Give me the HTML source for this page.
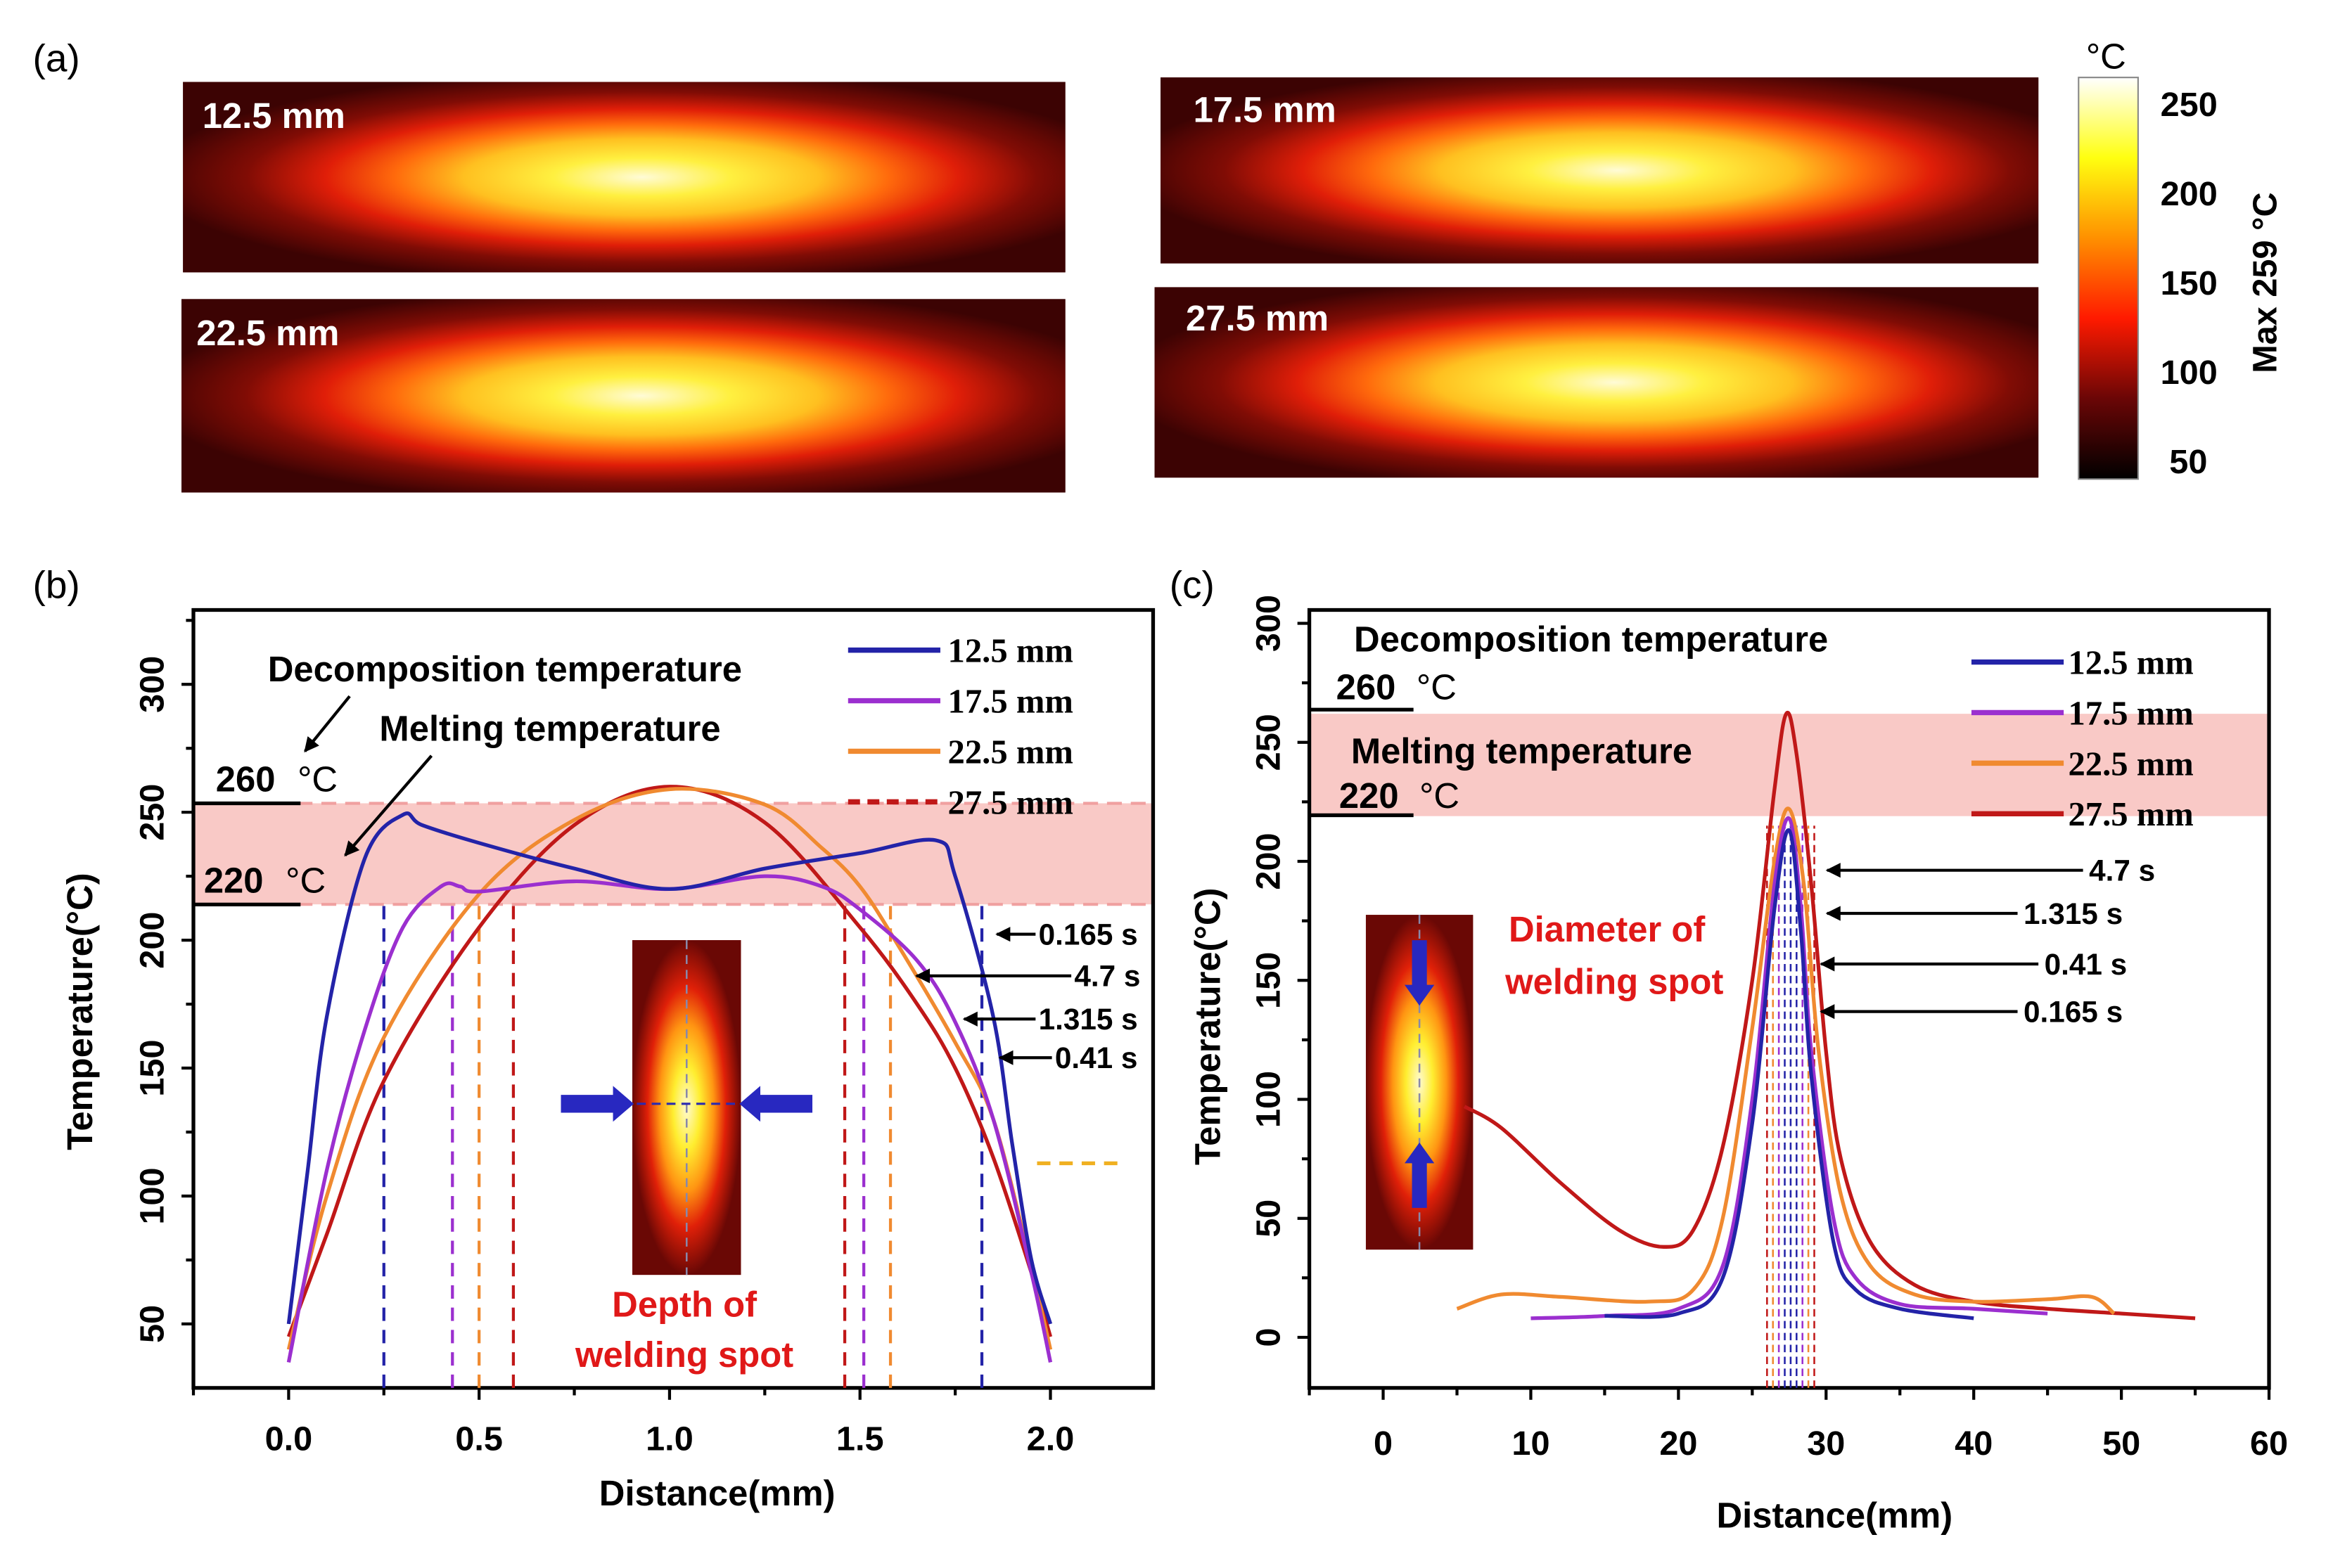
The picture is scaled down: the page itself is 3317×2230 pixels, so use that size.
<!DOCTYPE html>
<html><head><meta charset="utf-8">
<style>
html,body{margin:0;padding:0;background:#fff;}
svg{display:block;}
text{font-family:"Liberation Sans",sans-serif;}
.tk{font-size:23px;font-weight:bold;}
.an{font-size:24px;font-weight:bold;}
.lg{font-family:"Liberation Serif",serif;font-size:23px;font-weight:bold;}
.hm{font-size:24px;font-weight:bold;fill:#fff;}
</style></head>
<body>
<svg id="fig" width="3317" height="2230" viewBox="0 0 1568 1054" xmlns="http://www.w3.org/2000/svg">
<defs>
<radialGradient id="heatA" cx="0.52" cy="0.5" r="0.56" fx="0.52" fy="0.5">
<stop offset="0" stop-color="#fffbd6"/><stop offset="0.18" stop-color="#fff040"/>
<stop offset="0.36" stop-color="#ffc020"/><stop offset="0.5" stop-color="#ff6a0c"/>
<stop offset="0.64" stop-color="#e01e08"/><stop offset="0.8" stop-color="#800c05"/>
<stop offset="1" stop-color="#3c0303"/>
</radialGradient>
<radialGradient id="heatB" cx="0.5" cy="0.5" r="0.5">
<stop offset="0" stop-color="#fffad0"/><stop offset="0.25" stop-color="#ffee30"/>
<stop offset="0.5" stop-color="#ff9512"/><stop offset="0.72" stop-color="#e02008"/>
<stop offset="1" stop-color="#6a0805"/>
</radialGradient>
<linearGradient id="cbar" x1="0" y1="1" x2="0" y2="0">
<stop offset="0" stop-color="#000"/><stop offset="0.2" stop-color="#6a0606"/>
<stop offset="0.4" stop-color="#ff1a00"/><stop offset="0.6" stop-color="#ff9000"/>
<stop offset="0.8" stop-color="#ffff10"/><stop offset="1" stop-color="#ffffff"/>
</linearGradient>
<marker id="arr" viewBox="0 0 10 10" refX="9" refY="5" markerWidth="5" markerHeight="5" orient="auto"><path d="M0,0 L10,5 L0,10 z" fill="#000"/></marker>
</defs>

<text x="22" y="48" class="tk" style="font-weight:normal;font-size:26px">(a)</text>
<text x="22" y="402" style="font-size:26px">(b)</text>
<text x="786" y="402" style="font-size:26px">(c)</text>
<g>
<rect x="123" y="55" width="593" height="128" fill="#3c0303"/>
<rect x="123" y="55" width="593" height="128" fill="url(#heatA)"/>
<text x="136" y="86" class="hm">12.5 mm</text></g>
<g>
<rect x="122" y="201" width="594" height="130" fill="#3c0303"/>
<rect x="122" y="201" width="594" height="130" fill="url(#heatA)"/>
<text x="132" y="232" class="hm">22.5 mm</text></g>
<g>
<rect x="780" y="52" width="590" height="125" fill="#3c0303"/>
<rect x="780" y="52" width="590" height="125" fill="url(#heatA)"/>
<text x="802" y="82" class="hm">17.5 mm</text></g>
<g>
<rect x="776" y="193" width="594" height="128" fill="#4a0404"/>
<rect x="776" y="193" width="594" height="128" fill="url(#heatA)"/>
<text x="797" y="222" class="hm">27.5 mm</text></g>
<g>
<rect x="1397" y="52" width="40" height="270" fill="url(#cbar)" stroke="#888" stroke-width="1"/>
<text x="1402" y="46" style="font-size:24px">°C</text>
<text x="1452" y="78" class="tk">250</text><text x="1452" y="138" class="tk">200</text>
<text x="1452" y="198" class="tk">150</text><text x="1452" y="258" class="tk">100</text>
<text x="1458" y="318" class="tk">50</text>
<text transform="translate(1530,190) rotate(-90)" text-anchor="middle" class="tk">Max 259 °C</text>
</g>

<g id="pb"></g>
<g id="pc"></g>
</svg>
<script>
// ---------- Panel (b) data ----------
const bSeriesNames = ['12.5 mm','17.5 mm','22.5 mm','27.5 mm'];
const bColors = ['#2323a8','#9b2fcf','#f08a30','#c01818'];
const bX_125 = [0,0.05,0.1,0.2,0.3,0.35,0.5,0.75,1.0,1.25,1.5,1.7,1.75,1.85,1.9,1.95,2.0];
const bY_125 = [50,110,170,232,249,245,238,228,220,228,234,239,225,170,120,75,50];
const bX_175 = [0,0.1,0.2,0.3,0.4,0.45,0.5,0.75,1.0,1.25,1.4,1.5,1.65,1.75,1.85,1.95,2.0];
const bY_175 = [35,110,165,205,221,221,219,223,220,225,221,212,192,168,130,70,35];
const bX_225 = [0,0.1,0.25,0.5,0.75,1.0,1.25,1.4,1.5,1.6,1.75,1.85,1.95,2.0];
const bY_225 = [40,100,162,218,247,259,253,236,221,198,160,130,72,40];
const bX_275 = [0,0.1,0.25,0.5,0.75,1.0,1.25,1.5,1.65,1.75,1.85,1.95,2.0];
const bY_275 = [45,85,145,205,245,260,246,205,175,150,115,70,45];
const bDashX = [0.25,0.43,0.5,0.59,1.46,1.51,1.58,1.82];
const bDashC = [0,1,2,3,3,1,2,0];
const bXTicks = [0,0.5,1.0,1.5,2.0];
const bXTickLabels = ['0.0','0.5','1.0','1.5','2.0'];
const bYTicks = [50,100,150,200,250,300];
// ---------- Panel (c) data ----------
const cX_125 = [15,20,23,25,26.5,27.5,28.3,29,30.5,32,35,40];
const cY_125 = [9,10,25,90,180,213,170,110,40,20,12,8];
const cX_175 = [10,15,20,23,25,26.5,27.5,28.3,29,30.5,32,35,40,45];
const cY_175 = [8,9,12,30,100,190,218,180,120,50,25,14,12,10];
const cX_225 = [5,8,12,18,21,23,25,26.5,27.5,28.5,29.5,31,33,36,40,45,48,49.5];
const cY_225 = [12,18,17,15,20,50,130,200,222,190,120,60,30,18,15,16,17,10];
const cX_275 = [5.5,8,12,16,19,21,23,25,26.5,27.3,28,29,30,31,33,36,40,45,50,55];
const cY_275 = [97,88,65,45,38,45,80,150,230,262,245,190,120,75,40,22,15,12,10,8];
const cDashX = [26,26.4,26.8,27.2,27.6,28,28.4,28.8,29.2];
const cDashC = [3,2,1,0,0,0,1,2,3];
const cXTicks = [0,10,20,30,40,50,60];
const cYTicks = [0,50,100,150,200,250,300];
const timeLabels = ['0.165 s','4.7 s','1.315 s','0.41 s'];
const cTimeLabels = ['4.7 s','1.315 s','0.41 s','0.165 s'];

const NS='http://www.w3.org/2000/svg';
function mk(parent,tag,attrs,txt){const e=document.createElementNS(NS,tag);for(const k in attrs)e.setAttribute(k,attrs[k]);if(txt!==undefined)e.textContent=txt;parent.appendChild(e);return e;}
function smooth(pts){let d='M'+pts[0][0]+','+pts[0][1];for(let i=0;i<pts.length-1;i++){const p0=pts[Math.max(0,i-1)],p1=pts[i],p2=pts[i+1],p3=pts[Math.min(pts.length-1,i+2)];const c1=[p1[0]+(p2[0]-p0[0])/6,p1[1]+(p2[1]-p0[1])/6],c2=[p2[0]-(p3[0]-p1[0])/6,p2[1]-(p3[1]-p1[1])/6];d+=' C'+c1[0]+','+c1[1]+' '+c2[0]+','+c2[1]+' '+p2[0]+','+p2[1];}return d;}
function arrowLine(g,x1,y1,x2,y2,name){const l=mk(g,'line',{x1,y1,x2,y2,stroke:'#000','stroke-width':2,'marker-end':'url(#arr)'});}
function inset(g,x,y,w,h){
  const r=mk(g,'rect',{x,y,width:w,height:h,fill:'#7a0a05'});
  
  mk(g,'rect',{x,y,width:w,height:h,fill:'url(#heatB)'});
  mk(g,'line',{x1:x+w/2,y1:y,x2:x+w/2,y2:y+h,stroke:'#8888aa','stroke-width':1.2,'stroke-dasharray':'6,4'});
}

// ---------- Build panel (b) ----------
(function(){
 const g=document.getElementById('pb');
 const L=130,R=775,T=410,B=933;
 const xs=v=>194+(v-0)*256, ys=v=>890-(v-50)*1.72;
 mk(g,'rect',{x:L,y:ys(253.5),width:R-L,height:ys(214)-ys(253.5),fill:'#f9c9c6'});
 [253.5,214].forEach(v=>mk(g,'line',{x1:200,x2:R,y1:ys(v),y2:ys(v),stroke:'#f0a0a0','stroke-width':2,'stroke-dasharray':'10,6'}));
 mk(g,'rect',{x:L,y:T,width:R-L,height:B-T,fill:'none',stroke:'#000','stroke-width':2.5});
 bXTicks.forEach((v,i)=>{mk(g,'line',{x1:xs(v),x2:xs(v),y1:B,y2:B+8,stroke:'#000','stroke-width':2});
   const t=mk(g,'text',{x:xs(v),y:975,'text-anchor':'middle',class:'tk'},bXTickLabels[i]);
   if(i<bXTicks.length-1)mk(g,'line',{x1:xs(v+0.25),x2:xs(v+0.25),y1:B,y2:B+5,stroke:'#000','stroke-width':2});});
 mk(g,'line',{x1:xs(-0.25),x2:xs(-0.25),y1:B,y2:B+5,stroke:'#000','stroke-width':2});
 bYTicks.forEach(v=>{mk(g,'line',{x1:L,x2:L-8,y1:ys(v),y2:ys(v),stroke:'#000','stroke-width':2});
   mk(g,'line',{x1:L,x2:L-5,y1:ys(v+25),y2:ys(v+25),stroke:'#000','stroke-width':2});
   const t=mk(g,'text',{transform:`translate(${L-20},${ys(v)}) rotate(-90)`,'text-anchor':'middle',class:'tk'},String(v));});
 mk(g,'text',{x:482,y:1012,'text-anchor':'middle',class:'an'},'Distance(mm)');
 mk(g,'text',{transform:'translate(62,680) rotate(-90)','text-anchor':'middle',class:'an'},'Temperature(°C)');
 bDashX.forEach((v,i)=>{const l=mk(g,'line',{x1:xs(v),x2:xs(v),y1:B,y2:ys(214),stroke:bColors[bDashC[i]],'stroke-width':2,'stroke-dasharray':'9,6'});});
 mk(g,'line',{x1:697,x2:757,y1:782,y2:782,stroke:'#f0b020','stroke-width':2.5,'stroke-dasharray':'9,6'});
 inset(g,425,632,73,225);
 mk(g,'line',{x1:378,x2:545,y1:742,y2:742,stroke:'#2a2ab0','stroke-width':1.5,'stroke-dasharray':'6,4'});
 mk(g,'path',{d:'M377,736 h35 v-6 l14,12 l-14,12 v-6 h-35z',fill:'#2828c0'});
 mk(g,'path',{d:'M546,736 h-35 v-6 l-14,12 l14,12 v-6 h35z',fill:'#2828c0'});
 mk(g,'text',{x:460,y:885,'text-anchor':'middle',class:'an',fill:'#e01818'},'Depth of');
 mk(g,'text',{x:460,y:919,'text-anchor':'middle',class:'an',fill:'#e01818'},'welding spot');
 const sx=[bX_125,bX_175,bX_225,bX_275], sy=[bY_125,bY_175,bY_225,bY_275];
 [3,2,1,0].forEach(i=>{const pts=sx[i].map((v,j)=>[xs(v),ys(sy[i][j])]);
   const p=mk(g,'path',{d:smooth(pts),fill:'none',stroke:bColors[i],'stroke-width':2.5});
   });
 bSeriesNames.forEach((n,i)=>{const y=437+i*34;
   mk(g,'line',{x1:570,x2:632,y1:y,y2:y,stroke:bColors[i],'stroke-width':3.5,'stroke-dasharray':i==3?'8,5':''});
   const t=mk(g,'text',{x:637,y:y+8,class:'lg'},n);});
 mk(g,'text',{x:180,y:458,class:'an'},'Decomposition temperature');
 mk(g,'text',{x:255,y:498,class:'an'},'Melting temperature');
 arrowLine(g,235,468,205,505,'arrow-decomp');
 arrowLine(g,290,508,232,575,'arrow-melt');
 mk(g,'text',{x:145,y:532,class:'an'},'260');mk(g,'text',{x:200,y:532,style:'font-size:24px'},'°C');
 mk(g,'line',{x1:130,x2:202,y1:540,y2:540,stroke:'#000','stroke-width':2.5});
 mk(g,'text',{x:137,y:600,class:'an'},'220');mk(g,'text',{x:192,y:600,style:'font-size:24px'},'°C');
 mk(g,'line',{x1:130,x2:202,y1:608,y2:608,stroke:'#000','stroke-width':2.5});
 const ty=[628,656,685,711], lx=[698,722,698,709], ax=[670,616,648,672];
 timeLabels.forEach((s,i)=>{arrowLine(g,lx[i]-2,ty[i],ax[i],ty[i],'time-arrow');
   const t=mk(g,'text',{x:lx[i],y:ty[i]+7,style:'font-size:20px;font-weight:bold'},s);});
})();

// ---------- Build panel (c) ----------
(function(){
 const g=document.getElementById('pc');
 const L=880,R=1525,T=410,B=933;
 const xs=v=>880+(v+5)*(645/65), ys=v=>899-v*1.6;
 mk(g,'rect',{x:L,y:ys(262),width:R-L,height:ys(219)-ys(262),fill:'#f9c9c6'});
 mk(g,'rect',{x:L,y:T,width:R-L,height:B-T,fill:'none',stroke:'#000','stroke-width':2.5});
 cXTicks.forEach(v=>{mk(g,'line',{x1:xs(v),x2:xs(v),y1:B,y2:B+8,stroke:'#000','stroke-width':2});
   mk(g,'line',{x1:xs(v-5),x2:xs(v-5),y1:B,y2:B+5,stroke:'#000','stroke-width':2});
   const t=mk(g,'text',{x:xs(v),y:978,'text-anchor':'middle',class:'tk'},String(v));});
 cYTicks.forEach(v=>{mk(g,'line',{x1:L,x2:L-8,y1:ys(v),y2:ys(v),stroke:'#000','stroke-width':2});
   if(ys(v+25)>T) mk(g,'line',{x1:L,x2:L-5,y1:ys(v+25),y2:ys(v+25),stroke:'#000','stroke-width':2});
   const t=mk(g,'text',{transform:`translate(${L-20},${ys(v)}) rotate(-90)`,'text-anchor':'middle',class:'tk'},String(v));});
 mk(g,'text',{x:1233,y:1027,'text-anchor':'middle',class:'an'},'Distance(mm)');
 mk(g,'text',{transform:'translate(820,690) rotate(-90)','text-anchor':'middle',class:'an'},'Temperature(°C)');
 cDashX.forEach((v,i)=>{const l=mk(g,'line',{x1:xs(v),x2:xs(v),y1:B,y2:ys(215),stroke:bColors[cDashC[i]],'stroke-width':1.2,'stroke-dasharray':'5,3'});});
 inset(g,918,615,72,225);
 mk(g,'path',{d:'M949,632 h10 v30 h5 l-10,14 l-10,-14 h5z',fill:'#2828c0'});
 mk(g,'path',{d:'M949,812 h10 v-30 h5 l-10,-14 l-10,14 h5z',fill:'#2828c0'});
 mk(g,'text',{x:1080,y:633,'text-anchor':'middle',class:'an',fill:'#e01818'},'Diameter of');
 mk(g,'text',{x:1085,y:668,'text-anchor':'middle',class:'an',fill:'#e01818'},'welding spot');
 const sx=[cX_125,cX_175,cX_225,cX_275], sy=[cY_125,cY_175,cY_225,cY_275];
 [3,2,1,0].forEach(i=>{const pts=sx[i].map((v,j)=>[xs(v),ys(sy[i][j])]);
   const p=mk(g,'path',{d:smooth(pts),fill:'none',stroke:bColors[i],'stroke-width':2.5});
   });
 bSeriesNames.forEach((n,i)=>{const y=445+i*34;
   mk(g,'line',{x1:1325,x2:1387,y1:y,y2:y,stroke:bColors[i],'stroke-width':3.5});
   const t=mk(g,'text',{x:1390,y:y+8,class:'lg'},n);});
 mk(g,'text',{x:910,y:438,class:'an'},'Decomposition temperature');
 mk(g,'text',{x:908,y:513,class:'an'},'Melting temperature');
 mk(g,'text',{x:898,y:470,class:'an'},'260');mk(g,'text',{x:952,y:470,style:'font-size:24px'},'°C');
 mk(g,'line',{x1:880,x2:950,y1:477,y2:477,stroke:'#000','stroke-width':2.5});
 mk(g,'text',{x:900,y:543,class:'an'},'220');mk(g,'text',{x:954,y:543,style:'font-size:24px'},'°C');
 mk(g,'line',{x1:880,x2:950,y1:548,y2:548,stroke:'#000','stroke-width':2.5});
 const ty=[585,614,648,680], ex=[1400,1356,1370,1356], ax=[1228,1228,1224,1224];
 cTimeLabels.forEach((s,i)=>{arrowLine(g,ex[i],ty[i],ax[i],ty[i],'time-arrow');
   const t=mk(g,'text',{x:ex[i]+4,y:ty[i]+7,style:'font-size:20px;font-weight:bold'},s);
   });
})();
</script>
</body></html>
